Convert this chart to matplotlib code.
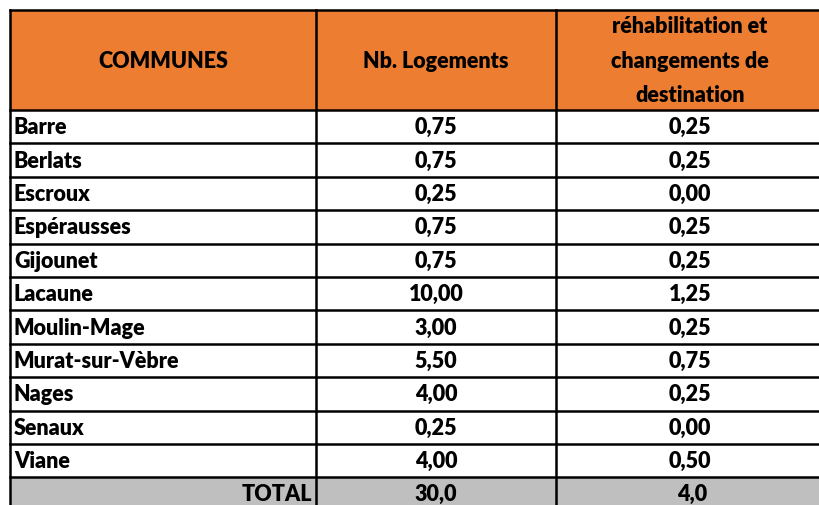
import matplotlib
matplotlib.use("Agg")
import matplotlib.pyplot as plt
from matplotlib.patches import Rectangle

communes = ["Barre", "Berlats", "Escroux", "Espérausses", "Gijounet", "Lacaune",
            "Moulin-Mage", "Murat-sur-Vèbre", "Nages", "Senaux", "Viane"]
nb_logements = [0.75, 0.75, 0.25, 0.75, 0.75, 10.00, 3.00, 5.50, 4.00, 0.25, 4.00]
rehabilitation = [0.25, 0.25, 0.00, 0.25, 0.25, 1.25, 0.25, 0.75, 0.25, 0.00, 0.50]
headers = ["COMMUNES", "Nb. Logements", "réhabilitation et\nchangements de\ndestination"]
total_label = "TOTAL"
total_values = [30.0, 4.0]

W, H = 820, 505
fig = plt.figure(figsize=(W / 100, H / 100), dpi=100)
ax = fig.add_axes([0, 0, 1, 1])
ax.set_xlim(0, W)
ax.set_ylim(H, 0)
ax.axis("off")

FONT = "Lato"
FS = 15.5
WT = "heavy"
ORANGE = "#ED7D31"
GRAY = "#BFBFBF"

x0, x1, x2, x3 = 10, 316, 556, 824
top, head_bot = 10, 110
row_h = 33.4
n = len(communes)
total_top = head_bot + n * row_h
total_bot = total_top + row_h

def fmt(v, d):
    return f"{v:.{d}f}".replace(".", ",")

def txt(x, y, s, ha, **kw):
    ax.text(x, y, s, ha=ha, va="center", fontsize=FS, fontweight=WT, family=FONT, zorder=3, **kw)

# backgrounds
ax.add_patch(Rectangle((x0, top), x3 - x0, head_bot - top, facecolor=ORANGE, edgecolor="none", zorder=1))
ax.add_patch(Rectangle((x0, total_top), x3 - x0, total_bot - total_top, facecolor=GRAY, edgecolor="none", zorder=1))

# header text
col_centers = [(x0 + x1) / 2, (x1 + x2) / 2, (x2 + x3) / 2]
hy = (top + head_bot) / 2
for c, h in zip(col_centers, headers):
    txt(c, hy + 1, h, "center", linespacing=1.8)

# rows
for i, (name, a, b) in enumerate(zip(communes, nb_logements, rehabilitation)):
    yc = head_bot + (i + 0.5) * row_h + 1
    txt(x0 + 4, yc, name, "left")
    txt(col_centers[1], yc, fmt(a, 2), "center")
    txt(col_centers[2], yc, fmt(b, 2), "center")

yc = total_top + row_h / 2
txt(x1 - 4, yc, total_label, "right")
txt(col_centers[1], yc, fmt(total_values[0], 1), "center")
txt(col_centers[2] + 2, yc, fmt(total_values[1], 1), "center")

# grid lines
lw = 1.8
ax.plot([x0, x3], [top, top], color="black", lw=lw, zorder=4, solid_capstyle="projecting")
ax.plot([x0, x3], [head_bot, head_bot], color="black", lw=lw, zorder=4)
for k in range(1, n + 1):
    y = head_bot + k * row_h
    ax.plot([x0, x3], [y, y], color="black", lw=lw, zorder=4)
for x in (x0, x1, x2):
    ax.plot([x, x], [top, total_bot], color="black", lw=lw, zorder=4, solid_capstyle="projecting")

fig.savefig("out.png", dpi=100)
